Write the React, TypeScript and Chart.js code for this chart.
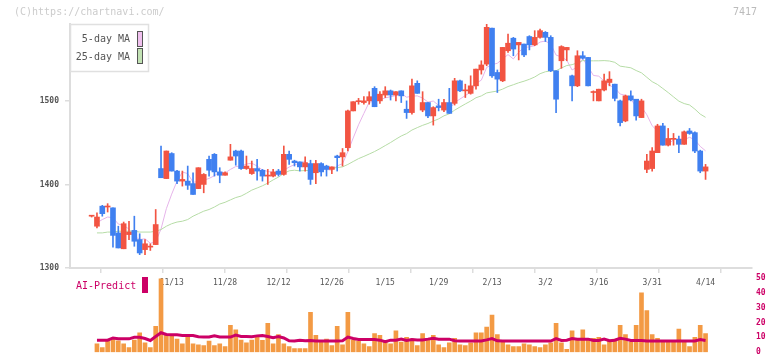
import { useEffect, useRef } from "react";
import { Chart, registerables } from "chart.js";

Chart.register(...registerables);

const FONT = "'DejaVu Sans Mono', monospace";

const dateLabels = ["11/13", "11/28", "12/12", "12/26", "1/15", "1/29", "2/13", "3/2", "3/16", "3/31", "4/14"];
const labelIndices = [15, 25, 35, 45, 55, 65, 75, 85, 95, 105, 115];

const opens = [
  1362, 1350, 1374, 1373, 1372, 1342, 1323, 1340, 1345, 1334, 1322, 1325, 1328, 1419, 1407, 1437, 1416, 1404, 1404, 1401,
  1395, 1400, 1430, 1436, 1415, 1411, 1429, 1440, 1440, 1419, 1413, 1419, 1417, 1410, 1410, 1416, 1412, 1436, 1428, 1427,
  1421, 1425, 1414, 1425, 1422, 1418, 1434, 1433, 1444, 1488, 1499, 1498, 1500, 1515, 1500, 1507, 1512, 1507, 1512, 1490,
  1486, 1521, 1489, 1498, 1482, 1494, 1489, 1498, 1497, 1524, 1512, 1509, 1518, 1537, 1544, 1587, 1534, 1524, 1560, 1575,
  1567, 1568, 1577, 1567, 1576, 1582, 1576, 1536, 1548, 1561, 1530, 1518, 1554, 1552, 1510, 1500, 1513, 1522, 1520, 1500,
  1476, 1506, 1502, 1480, 1418, 1419, 1438, 1470, 1447, 1454, 1454, 1448, 1464, 1462, 1440, 1416,
];
const highs = [
  1363, 1366, 1375, 1377, 1372, 1350, 1355, 1356, 1362, 1341, 1334, 1329, 1370, 1446, 1440, 1438, 1417, 1416, 1422, 1414,
  1420, 1413, 1434, 1437, 1420, 1415, 1448, 1441, 1441, 1434, 1428, 1430, 1418, 1418, 1418, 1418, 1446, 1440, 1429, 1427,
  1433, 1429, 1429, 1426, 1423, 1421, 1435, 1443, 1489, 1499, 1503, 1505, 1511, 1517, 1511, 1517, 1513, 1511, 1512, 1500,
  1526, 1524, 1511, 1498, 1493, 1502, 1502, 1515, 1527, 1525, 1520, 1530, 1538, 1548, 1593, 1587, 1537, 1564, 1580, 1576,
  1570, 1568, 1578, 1584, 1586, 1583, 1578, 1536, 1566, 1564, 1531, 1560, 1559, 1552, 1512, 1514, 1532, 1535, 1520, 1501,
  1507, 1512, 1502, 1502, 1436, 1444, 1472, 1473, 1467, 1461, 1458, 1464, 1467, 1463, 1441, 1424,
];
const lows = [
  1361, 1348, 1362, 1367, 1325, 1324, 1323, 1334, 1326, 1316, 1316, 1321, 1328, 1408, 1407, 1416, 1401, 1398, 1394, 1388,
  1395, 1390, 1410, 1410, 1402, 1411, 1429, 1423, 1418, 1418, 1412, 1405, 1404, 1400, 1409, 1410, 1411, 1424, 1422, 1416,
  1416, 1400, 1401, 1410, 1410, 1413, 1416, 1422, 1440, 1488, 1496, 1496, 1496, 1493, 1497, 1504, 1501, 1500, 1498, 1479,
  1484, 1509, 1487, 1480, 1471, 1488, 1487, 1485, 1495, 1511, 1504, 1508, 1514, 1532, 1542, 1528, 1510, 1523, 1558, 1554,
  1549, 1553, 1561, 1566, 1575, 1571, 1535, 1486, 1539, 1548, 1500, 1517, 1550, 1518, 1500, 1500, 1512, 1518, 1500, 1470,
  1475, 1500, 1477, 1480, 1414, 1416, 1438, 1447, 1446, 1447, 1438, 1448, 1460, 1438, 1414, 1406,
];
const closes = [
  1362, 1361, 1365, 1374, 1339, 1324, 1353, 1343, 1332, 1318, 1329, 1326, 1352, 1408, 1440, 1416, 1404, 1406, 1399, 1388,
  1420, 1412, 1417, 1415, 1411, 1414, 1433, 1434, 1419, 1422, 1419, 1416, 1410, 1411, 1415, 1412, 1436, 1430, 1426, 1421,
  1426, 1406, 1425, 1415, 1418, 1421, 1432, 1438, 1488, 1499, 1500, 1500, 1505, 1493, 1508, 1512, 1507, 1511, 1506, 1486,
  1518, 1509, 1498, 1482, 1492, 1492, 1498, 1485, 1524, 1512, 1513, 1518, 1538, 1543, 1588, 1530, 1526, 1564, 1569, 1562,
  1570, 1555, 1567, 1576, 1584, 1576, 1536, 1502, 1565, 1564, 1518, 1554, 1551, 1518, 1511, 1514, 1524, 1526, 1503, 1474,
  1506, 1501, 1482, 1500, 1428, 1440, 1470, 1447, 1455, 1455, 1448, 1463, 1461, 1440, 1416, 1421,
];

// Moving-average values before enough closes are visible
const ma5Head = [null, 1354, 1358, 1361];
const ma25Head = [
  null, 1342, 1342, 1343, 1343, 1344, 1344, 1344, 1344, 1343, 1343, 1343, 1344, 1346, 1350, 1353, 1355, 1356, 1358, 1362,
  1365, 1368, 1370, 1373,
];

const volumes = [
  null, 5.6, 3.1, 7.7, 9.2, 7.7, 5.6, 3.1, 8.1, 13.1, 6.3, 3.1, 17.5, 49.4, 11.9, 11.3, 8.8, 5.6, 11.3, 5.6,
  5, 4.4, 7.5, 4.4, 5.6, 3.8, 18.1, 15, 8.1, 6.3, 8.1, 10.6, 8, 19.4, 5.6, 11.9, 5.6, 3.8, 2.5, 2.5,
  2.5, 26.9, 11.3, 7.5, 8.8, 4.4, 17.5, 5, 26.9, 8.1, 7.5, 5.6, 3.8, 12.5, 11.3, 7.5, 5.6, 14.4, 6.9, 10,
  8.8, 4.4, 12.5, 8.8, 11.3, 5, 3.1, 6.3, 9.4, 5, 4.4, 6.3, 13.1, 13.1, 16.9, 25, 11.9, 7.5, 5, 3.8,
  3.8, 5.6, 5, 3.8, 3.1, 5, 6.3, 19.4, 6.3, 1.9, 14.4, 8.1, 15, 9.4, 9.4, 10, 5, 7.5, 8.8, 18.1,
  11.9, 6.9, 18.1, 40, 28.1, 11.9, 9.4, 7.5, 7.5, 7.5, 15.6, 7.5, 3.8, 10, 18.1, 12.5,
];
const aiPredict = [
  null, 8.1, 8.1, 8.1, 9.6, 9, 9, 9, 10, 10, 9.2, 7.9, 10.6, 13.1, 11.9, 11.7, 11.7, 11.3, 11.3, 11.3,
  10.4, 10.2, 10.2, 11, 10.2, 10.2, 10.2, 11.5, 10.6, 10.6, 10.4, 11, 11.3, 10.6, 9.8, 10.6, 9.6, 7.7, 7.5, 8.1,
  7.7, 7.9, 7.5, 7.5, 7.5, 7.5, 7.5, 7.7, 10.2, 9.2, 8.5, 8.5, 8.5, 8.5, 8.1, 7.1, 8.1, 8.1, 8.8, 7.9,
  8.5, 8.3, 8.3, 8.8, 9.4, 8.8, 8.8, 8.8, 7.7, 7.5, 7.5, 7.5, 7.5, 7.5, 8.3, 9.2, 7.7, 7.5, 7.5, 7.5,
  7.5, 7.5, 7.5, 7.5, 7.5, 7.5, 7.5, 9.2, 7.9, 8.1, 9.2, 8.8, 8.8, 8.8, 7.9, 7.9, 8.8, 7.7, 8.1, 9.4,
  8.8, 7.9, 7.9, 7.9, 7.5, 7.5, 7.5, 7.5, 7.5, 7.5, 7.5, 7.5, 7.5, 7.5, 8.5, 7.9,
];

const priceTicks = [1300, 1400, 1500];
const volumeTicks = [0, 10, 20, 30, 40, 50];

const UP = "#f25442";
const DOWN = "#4080f0";
const MAGENTA = "#cc0066";

function movingAverage(n: number, head: (number | null)[]) {
  return closes.map((_, i) => {
    if (i < n - 1) return head[i] ?? null;
    let s = 0;
    for (let k = i - n + 1; k <= i; k++) s += closes[k];
    return s / n;
  });
}

const X_MIN = -4.05;
const X_MAX = 123.7;

export default function App() {
  const priceRef = useRef<HTMLCanvasElement | null>(null);
  const volRef = useRef<HTMLCanvasElement | null>(null);

  useEffect(() => {
    const idx = closes.map((_, i) => i);
    const colors = idx.map((i) => (closes[i] >= opens[i] ? UP : DOWN));
    const ma5 = movingAverage(5, ma5Head);
    const ma25 = movingAverage(25, ma25Head);

    const headerPlugin = {
      id: "header",
      afterDraw(chart: any) {
        const ctx = chart.ctx;
        ctx.save();
        ctx.font = `10px ${FONT}`;
        ctx.textBaseline = "middle";
        ctx.fillStyle = "#cccccc";
        ctx.textAlign = "left";
        ctx.fillText("(C)https://chartnavi.com/", 14, 12);
        ctx.fillStyle = "#bbbbbb";
        ctx.textAlign = "right";
        ctx.fillText("7417", 757, 12);
        // legend box
        ctx.fillStyle = "#ffffff";
        ctx.fillRect(70, 24, 78, 47);
        ctx.strokeStyle = "#e0e0e0";
        ctx.lineWidth = 1.5;
        ctx.strokeRect(70.5, 24.5, 78, 47);
        ctx.fillStyle = "#555555";
        ctx.textAlign = "right";
        ctx.fillText("5-day MA", 130, 39);
        ctx.fillText("25-day MA", 130, 57);
        ctx.lineWidth = 1;
        ctx.strokeStyle = "#555555";
        ctx.fillStyle = "#f0c0ee";
        ctx.fillRect(137.5, 31.5, 5, 15);
        ctx.strokeRect(137.5, 31.5, 5, 15);
        ctx.fillStyle = "#c2e2b4";
        ctx.fillRect(137.5, 48.5, 5, 15);
        ctx.strokeRect(137.5, 48.5, 5, 15);
        ctx.restore();
      },
    };

    const price = new Chart(priceRef.current as HTMLCanvasElement, {
      type: "bar",
      data: {
        datasets: [
          {
            type: "line",
            data: idx.map((i) => ({ x: i, y: ma5[i] })) as any,
            borderColor: "#e6b4ea",
            borderWidth: 1,
            pointRadius: 0,
            order: 5,
          },
          {
            type: "line",
            data: idx.map((i) => ({ x: i, y: ma25[i] })) as any,
            borderColor: "#b6dca6",
            borderWidth: 1,
            pointRadius: 0,
            order: 4,
          },
          {
            type: "bar",
            data: idx.map((i) => ({ x: i, y: [lows[i], highs[i]] })) as any,
            backgroundColor: colors,
            barThickness: 1,
            grouped: false,
            order: 2,
          },
          {
            type: "bar",
            data: idx.map((i) => ({ x: i, y: [opens[i], closes[i]] })) as any,
            backgroundColor: colors,
            barThickness: 5,
            minBarLength: 1,
            grouped: false,
            order: 1,
          },
        ],
      },
      options: {
        responsive: false,
        animation: false,
        events: [],
        devicePixelRatio: 1,
        layout: { padding: { top: 24, right: 20, left: 0, bottom: 0 } },
        plugins: { legend: { display: false }, tooltip: { enabled: false } },
        scales: {
          x: {
            type: "linear",
            min: X_MIN,
            max: X_MAX,
            offset: false,
            position: "bottom",
            weight: 1,
            afterBuildTicks: (s: any) => {
              s.ticks = labelIndices.map((v) => ({ value: v }));
            },
            afterFit: (s: any) => {
              s.height = 88;
            },
            ticks: {
              autoSkip: false,
              maxRotation: 0,
              padding: 5,
              font: { family: FONT, size: 8 },
              color: "#555555",
              callback: (v: any) => {
                const k = labelIndices.indexOf(Number(v));
                return k >= 0 ? dateLabels[k] : "";
              },
            },
            grid: { display: false, drawTicks: false },
            border: { display: false },
          },
          x2: {
            type: "linear",
            min: 0,
            max: 11,
            offset: false,
            position: "bottom",
            weight: 0,
            afterBuildTicks: (s: any) => {
              s.ticks = Array.from({ length: 12 }, (_, k) => ({ value: k }));
            },
            afterFit: (s: any) => {
              s.height = 5;
            },
            ticks: { display: false },
            grid: { drawOnChartArea: false, drawTicks: true, tickLength: 5, color: "#dddddd", lineWidth: 1.5 },
            border: { display: true, color: "#dddddd", width: 2 },
          },
          y: {
            type: "linear",
            min: 1300,
            max: 1592,
            position: "left",
            afterBuildTicks: (s: any) => {
              s.ticks = priceTicks.map((v) => ({ value: v }));
            },
            afterFit: (s: any) => {
              s.width = 70;
            },
            ticks: {
              padding: 6,
              font: { family: FONT, size: 8, weight: "bold" },
              color: "#555555",
              callback: (v: any) => String(v),
            },
            grid: { drawOnChartArea: false, drawTicks: true, tickLength: 5, color: "#dddddd", lineWidth: 1.5 },
            border: { display: true, color: "#dddddd", width: 2 },
          },
        },
      },
      plugins: [headerPlugin],
    } as any);

    const aiLegendPlugin = {
      id: "aiLegend",
      afterDraw(chart: any) {
        const ctx = chart.ctx;
        ctx.save();
        ctx.font = `10px ${FONT}`;
        ctx.textBaseline = "middle";
        ctx.textAlign = "left";
        ctx.fillStyle = MAGENTA;
        ctx.fillText("AI-Predict", 76, 286);
        ctx.fillRect(142, 277, 6, 16);
        ctx.restore();
      },
    };

    const vol = new Chart(volRef.current as HTMLCanvasElement, {
      type: "bar",
      data: {
        datasets: [
          {
            type: "line",
            data: idx.map((i) => ({ x: i, y: aiPredict[i] })) as any,
            borderColor: MAGENTA,
            borderWidth: 3,
            pointRadius: 0,
            order: 0,
          },
          {
            type: "bar",
            data: idx.map((i) => ({ x: i, y: volumes[i] })) as any,
            backgroundColor: "#f39a44",
            barThickness: 4,
            order: 1,
          },
        ],
      },
      options: {
        responsive: false,
        animation: false,
        events: [],
        devicePixelRatio: 1,
        layout: { padding: { top: 278, right: 0, left: 70, bottom: 3 } },
        plugins: { legend: { display: false }, tooltip: { enabled: false } },
        scales: {
          x: { type: "linear", min: X_MIN, max: X_MAX, offset: false, display: false },
          y: {
            type: "linear",
            min: 0,
            max: 50,
            position: "right",
            afterBuildTicks: (s: any) => {
              s.ticks = volumeTicks.map((v) => ({ value: v }));
            },
            afterFit: (s: any) => {
              s.width = 20;
            },
            ticks: {
              padding: 4,
              font: { family: FONT, size: 8, weight: "bold" },
              color: MAGENTA,
            },
            grid: { display: false, drawTicks: false },
            border: { display: false },
          },
        },
      },
      plugins: [aiLegendPlugin],
    } as any);

    return () => {
      price.destroy();
      vol.destroy();
    };
  }, []);

  return (
    <div style={{ position: "fixed", left: 0, top: 0, width: 772, height: 361, background: "#ffffff" }}>
      <canvas ref={priceRef} width={772} height={361} style={{ position: "absolute", left: 0, top: 0 }} />
      <canvas ref={volRef} width={772} height={361} style={{ position: "absolute", left: 0, top: 0 }} />
    </div>
  );
}
